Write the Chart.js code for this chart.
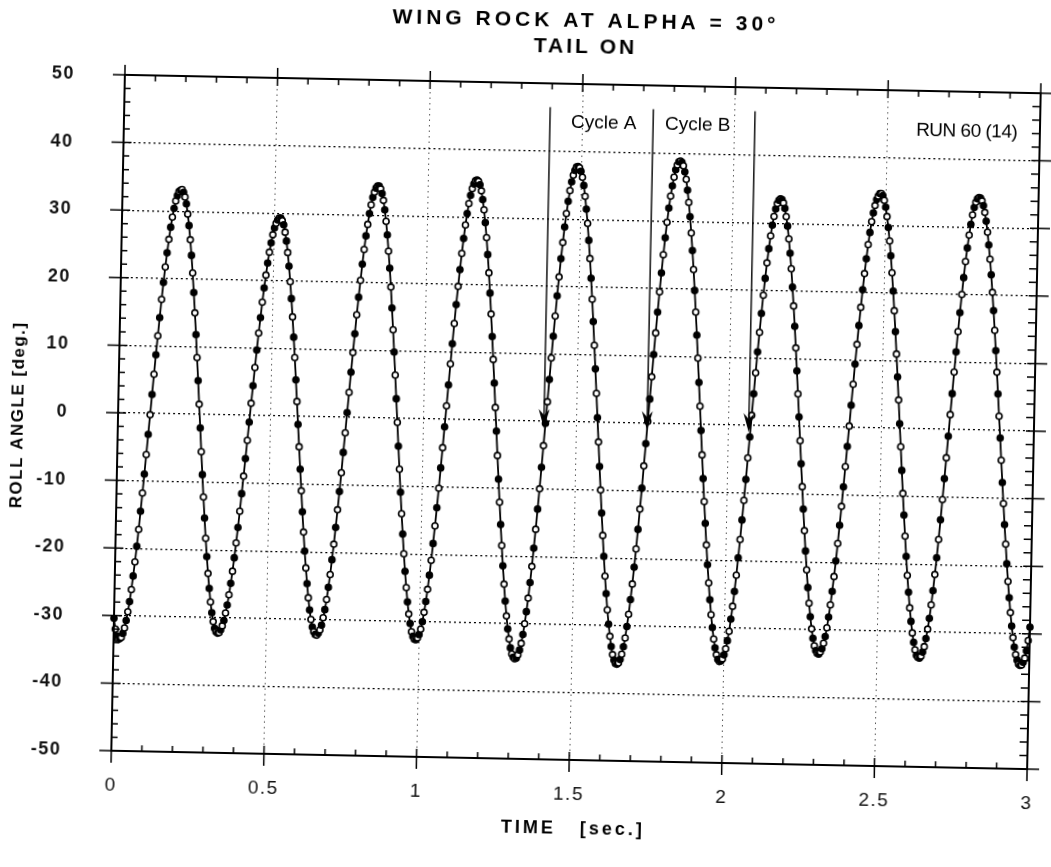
<!DOCTYPE html>
<html>
<head>
<meta charset="utf-8">
<title>Wing rock at alpha = 30 deg, tail on</title>
<script src="https://cdn.jsdelivr.net/npm/chart.js@4/dist/chart.umd.min.js"></script>
<style>
  html, body { margin: 0; padding: 0; background: #fff; overflow: hidden; }
  /* the plotted sheet sits slightly turned on the page */
  #wingRock { display: block; transform-origin: 577px 422px; transform: rotate(1.15deg); }
</style>
</head>
<body>
<canvas id="wingRock" width="1051" height="867"></canvas>
<script>
/** Roll angle time history for wing rock, run 60 (14). */

// roll angle [deg], one sample every 5 ms from 0 to 3 s
const sampleStep = 0.005;
const rollAngle = [
    // 0.000 - 0.015
    -30.4, -32.0, -33.0, -33.5,
    // 0.020 - 0.190
    -33.4, -33.2, -32.6, -31.8, -30.7, -29.4, -27.9, -26.1, -24.1, -22.0, -19.7, -17.2, -14.5, -11.8, -9.0, -6.1, -3.1, -0.2,
    2.8, 5.8, 8.7, 11.5, 14.2, 16.9, 19.4, 21.7, 23.8, 25.8, 27.6, 29.1, 30.4, 31.5, 32.3, 32.9, 33.1,
    // 0.195 - 0.340
    33.2, 32.8, 32.1, 31.1, 29.6, 27.9, 25.8, 23.5, 20.9, 18.0, 15.0, 11.8, 8.4, 5.0, 1.5,
    -2.0, -5.5, -8.9, -12.2, -15.3, -18.3, -21.0, -23.5, -25.7, -27.7, -29.3, -30.6, -31.6, -32.1, -32.3,
    // 0.345 - 0.515
    -32.2, -31.8, -31.2, -30.4, -29.3, -28.1, -26.6, -24.9, -23.1, -21.1, -18.9, -16.6, -14.2, -11.6, -9.0, -6.4, -3.7, -1.0,
    1.8, 4.4, 7.1, 9.7, 12.2, 14.5, 16.8, 18.9, 20.8, 22.6, 24.2, 25.6, 26.8, 27.8, 28.5, 29.0, 29.3,
    // 0.520 - 0.660
    29.3, 28.9, 28.3, 27.2, 25.9, 24.2, 22.2, 19.9, 17.4, 14.7, 11.7, 8.7, 5.4, 2.2,
    -1.2, -4.5, -7.8, -11.0, -14.1, -17.1, -19.9, -22.4, -24.7, -26.8, -28.6, -30.0, -31.1, -31.8, -32.2,
    // 0.665 - 0.835
    -32.3, -32.0, -31.5, -30.8, -29.7, -28.5, -27.0, -25.2, -23.3, -21.1, -18.8, -16.3, -13.7, -11.0, -8.2, -5.2, -2.3,
    0.7, 3.7, 6.7, 9.6, 12.4, 15.2, 17.8, 20.3, 22.7, 24.9, 26.9, 28.6, 30.2, 31.5, 32.6, 33.4, 34.0, 34.3,
    // 0.840 - 0.985
    34.3, 33.9, 33.2, 32.2, 30.8, 29.1, 27.1, 24.7, 22.2, 19.4, 16.3, 13.1, 9.8, 6.4, 2.9,
    -0.6, -4.1, -7.5, -10.9, -14.1, -17.1, -20.0, -22.6, -25.0, -27.1, -28.9, -30.3, -31.5, -32.2, -32.6,
    // 0.990 - 1.160
    -32.7, -32.4, -31.9, -31.1, -30.0, -28.6, -27.0, -25.2, -23.1, -20.9, -18.4, -15.8, -13.1, -10.2, -7.2, -4.2, -1.1,
    2.0, 5.1, 8.2, 11.2, 14.2, 17.0, 19.7, 22.2, 24.6, 26.8, 28.8, 30.5, 32.0, 33.2, 34.2, 34.9, 35.4, 35.5,
    // 1.165 - 1.315
    35.3, 34.8, 33.9, 32.6, 31.1, 29.2, 27.0, 24.5, 21.8, 18.8, 15.7, 12.4, 9.0, 5.5, 1.9,
    -1.6, -5.2, -8.7, -12.1, -15.4, -18.5, -21.5, -24.2, -26.7, -28.9, -30.8, -32.3, -33.6, -34.5, -35.0, -35.2,
    // 1.320 - 1.490
    -35.1, -34.6, -33.9, -32.9, -31.6, -30.0, -28.2, -26.2, -23.9, -21.5, -18.8, -16.0, -13.0, -10.0, -6.8, -3.6, -0.3,
    2.9, 6.2, 9.4, 12.6, 15.6, 18.6, 21.4, 24.1, 26.5, 28.8, 30.8, 32.6, 34.2, 35.5, 36.5, 37.2, 37.7, 37.8,
    // 1.495 - 1.645
    37.6, 37.1, 36.2, 35.0, 33.4, 31.5, 29.4, 26.9, 24.2, 21.3, 18.2, 14.9, 11.4, 7.9, 4.3, 0.7,
    -2.9, -6.5, -10.0, -13.4, -16.7, -19.8, -22.7, -25.3, -27.7, -29.8, -31.6, -33.1, -34.3, -35.1, -35.6,
    // 1.650 - 1.825
    -35.7, -35.5, -35.0, -34.2, -33.1, -31.8, -30.1, -28.3, -26.1, -23.8, -21.3, -18.6, -15.7, -12.7, -9.6, -6.3, -3.0,
    0.3, 3.6, 6.9, 10.2, 13.4, 16.5, 19.5, 22.3, 25.0, 27.5, 29.8, 31.9, 33.7, 35.2, 36.5, 37.6, 38.3, 38.8, 38.9,
    // 1.830 - 1.985
    38.7, 38.2, 37.3, 36.2, 34.6, 32.8, 30.7, 28.3, 25.7, 22.9, 19.8, 16.6, 13.2, 9.8, 6.2, 2.7,
    -0.9, -4.5, -8.0, -11.4, -14.6, -17.8, -20.7, -23.4, -25.9, -28.1, -30.0, -31.7, -33.0, -34.0, -34.7, -35.0,
    // 1.990 - 2.155
    -34.9, -34.6, -34.0, -33.1, -31.9, -30.5, -28.7, -26.8, -24.6, -22.2, -19.6, -16.9, -14.0, -11.1, -8.0, -4.8, -1.7,
    1.5, 4.7, 7.8, 10.9, 13.8, 16.6, 19.3, 21.8, 24.1, 26.2, 28.1, 29.7, 31.0, 32.1, 32.9, 33.4, 33.6,
    // 2.160 - 2.305
    33.5, 33.0, 32.2, 31.0, 29.6, 27.7, 25.6, 23.3, 20.6, 17.8, 14.8, 11.6, 8.2, 4.8, 1.4,
    -2.1, -5.5, -8.9, -12.2, -15.4, -18.4, -21.2, -23.8, -26.1, -28.1, -29.9, -31.3, -32.4, -33.1, -33.5,
    // 2.310 - 2.480
    -33.6, -33.3, -32.8, -32.0, -31.0, -29.7, -28.1, -26.3, -24.3, -22.1, -19.8, -17.2, -14.5, -11.7, -8.8, -5.8, -2.8,
    0.2, 3.3, 6.4, 9.4, 12.3, 15.1, 17.8, 20.4, 22.8, 25.0, 27.1, 28.9, 30.5, 31.8, 32.9, 33.8, 34.3, 34.7,
    // 2.485 - 2.635
    34.7, 34.4, 33.7, 32.7, 31.3, 29.7, 27.7, 25.5, 23.0, 20.3, 17.4, 14.3, 11.0, 7.6, 4.2, 0.7,
    -2.7, -6.2, -9.6, -12.8, -15.9, -18.9, -21.7, -24.2, -26.5, -28.5, -30.2, -31.6, -32.7, -33.5, -33.8,
    // 2.640 - 2.805
    -33.9, -33.6, -33.0, -32.2, -31.0, -29.6, -28.0, -26.0, -23.9, -21.5, -19.0, -16.3, -13.4, -10.4, -7.3, -4.2, -1.0,
    2.2, 5.3, 8.5, 11.5, 14.5, 17.3, 20.0, 22.5, 24.9, 26.9, 28.8, 30.4, 31.8, 32.9, 33.7, 34.2, 34.4,
    // 2.810 - 2.970
    34.3, 33.9, 33.2, 32.2, 30.9, 29.3, 27.4, 25.3, 23.0, 20.4, 17.7, 14.8, 11.8, 8.6, 5.4, 2.1,
    -1.1, -4.4, -7.7, -10.8, -13.9, -16.8, -19.7, -22.3, -24.7, -26.9, -28.9, -30.6, -32.0, -33.1, -33.9, -34.5, -34.7,
    // 2.975 - 3.000
    -34.6, -34.2, -33.6, -32.5, -31.0, -29.0
];

const timeTicks = [0, 0.5, 1, 1.5, 2, 2.5, 3];
const angleTicks = [-50, -40, -30, -20, -10, 0, 10, 20, 30, 40, 50];

// annotation marks: arrow times [sec] and the cycle names between them
const cycleArrowTimes = [1.395, 1.733, 2.066];
const cycleArrowTop = 46.5;
const cycleArrowTip = -1.0;
const cycleNames = ['Cycle A', 'Cycle B'];
const cycleNameTimes = [1.571, 1.879];
const cycleNameAngle = 44.2;
const runLabel = 'RUN 60 (14)';
const runLabelAt = [2.760, 44.1];

const titleLines = ['WING ROCK AT ALPHA = 30\u00b0', 'TAIL ON'];
const xTitle = 'TIME   [sec.]';
const yTitle = 'ROLL ANGLE [deg.]';

const FONT = "'Liberation Sans', Arial, Helvetica, sans-serif";

/**
 * Draws the frame with its minor ticks, the cycle arrows, the run label and the titles.
 */
const sheetDecor = {
    id: 'sheetDecor',
    beforeDraw(chart) {
        chart.ctx.letterSpacing = '1.5px';
    },
    afterDraw(chart) {
        const {ctx, chartArea: a, scales: {x, y}} = chart;
        ctx.save();
        ctx.letterSpacing = '0px';
        ctx.strokeStyle = '#000';
        ctx.lineWidth = 2;
        ctx.strokeRect(a.left, a.top, a.right - a.left, a.bottom - a.top);

        // 0.1 s ticks on top and bottom, 2 deg ticks on both sides
        ctx.lineWidth = 1.5;
        ctx.beginPath();
        for (let i = 0; i <= 30; i++) {
            const px = x.getPixelForValue(i * 0.1);
            const major = i % 5 === 0;
            ctx.moveTo(px, a.top - (major ? 10 : 0));
            ctx.lineTo(px, a.top + (major ? 8 : 6));
            ctx.moveTo(px, a.bottom + (major ? 12 : 0));
            ctx.lineTo(px, a.bottom - (major ? 8 : 6));
        }
        for (let d = -50; d <= 50; d += 2) {
            const py = y.getPixelForValue(d);
            const major = d % 10 === 0;
            ctx.moveTo(a.left - (major ? 12 : 0), py);
            ctx.lineTo(a.left + (major ? 8 : 6), py);
            ctx.moveTo(a.right + (major ? 12 : 0), py);
            ctx.lineTo(a.right - 8, py);
        }
        ctx.stroke();

        // arrows pointing at the start of each cycle
        const topPx = y.getPixelForValue(cycleArrowTop);
        const tipPx = y.getPixelForValue(cycleArrowTip);
        ctx.lineWidth = 1.4;
        ctx.fillStyle = '#000';
        cycleArrowTimes.forEach(t => {
            const px = x.getPixelForValue(t);
            ctx.beginPath();
            ctx.moveTo(px, topPx);
            ctx.lineTo(px, tipPx - 10);
            ctx.stroke();
            ctx.beginPath();
            ctx.moveTo(px, tipPx);
            ctx.lineTo(px - 5.5, tipPx - 19);
            ctx.lineTo(px, tipPx - 13);
            ctx.lineTo(px + 5.5, tipPx - 19);
            ctx.closePath();
            ctx.fill();
        });

        ctx.textAlign = 'center';
        ctx.textBaseline = 'middle';
        ctx.font = `19px ${FONT}`;
        cycleNames.forEach((name, i) => {
            ctx.fillText(name, x.getPixelForValue(cycleNameTimes[i]), y.getPixelForValue(cycleNameAngle));
        });
        ctx.letterSpacing = '-0.5px';
        ctx.fillText(runLabel, x.getPixelForValue(runLabelAt[0]), y.getPixelForValue(runLabelAt[1]));

        // titles
        const midX = (a.left + a.right) / 2;
        ctx.font = `bold 21px ${FONT}`;
        ctx.letterSpacing = '4px';
        ctx.fillText(titleLines[0], midX + 2, 21.5);
        ctx.letterSpacing = '3px';
        ctx.fillText(titleLines[1], midX + 2, 47.5);

        ctx.font = `bold 18px ${FONT}`;
        ctx.letterSpacing = '3px';
        ctx.fillText(xTitle, midX + 5, 829);

        ctx.font = `bold 17px ${FONT}`;
        ctx.letterSpacing = '1.5px';
        ctx.translate(18, (a.top + a.bottom) / 2 + 4);
        ctx.rotate(-Math.PI / 2);
        ctx.fillText(yTitle, 0, 0);
        ctx.restore();
    }
};

/**
 * Creates the roll angle chart.
 * @param {string} elementId - Id of the canvas to draw in.
 * @returns reference to the chart.
 */
function createChart(elementId) {
    const context = document.getElementById(elementId);
    const points = rollAngle.map((v, i) => ({x: i * sampleStep, y: v}));
    const chartConfig = {
        type: 'line',
        data: {
            datasets: [{
                label: 'Roll angle',
                data: points,
                borderColor: '#000',
                borderWidth: 1.8,
                pointRadius: 3,
                pointBorderWidth: 1.6,
                pointBorderColor: '#000',
                pointBackgroundColor: c => (c.dataIndex % 2 ? '#fff' : '#000'),
                tension: 0,
                clip: 6
            }]
        },
        options: {
            responsive: false,
            devicePixelRatio: 1,
            animation: false,
            events: [],
            layout: {
                padding: {left: 0, right: 17, top: 84, bottom: 0}
            },
            plugins: {
                legend: {display: false},
                tooltip: {enabled: false}
            },
            scales: {
                x: {
                    type: 'linear',
                    min: 0,
                    max: 3,
                    afterBuildTicks: s => { s.ticks = timeTicks.map(v => ({value: v})); },
                    afterFit: s => {
                        s.height = 107;
                        s.paddingLeft = 0;
                        s.paddingRight = 0;
                    },
                    border: {display: false, dash: [1.5, 4]},
                    grid: {
                        drawTicks: false,
                        lineWidth: 1,
                        color: c => (c.tick && (c.tick.value === 0 || c.tick.value === 3) ? 'rgba(0,0,0,0)' : '#555')
                    },
                    ticks: {
                        padding: 23,
                        autoSkip: false,
                        maxRotation: 0,
                        color: '#111',
                        font: {family: FONT, size: 19},
                        callback: v => String(v)
                    }
                },
                y: {
                    type: 'linear',
                    min: -50,
                    max: 50,
                    afterBuildTicks: s => { s.ticks = angleTicks.map(v => ({value: v})); },
                    afterFit: s => {
                        s.width = 118;
                        s.paddingTop = 0;
                        s.paddingBottom = 0;
                    },
                    border: {display: false, dash: [2, 3]},
                    grid: {
                        drawTicks: false,
                        lineWidth: 1.2,
                        color: c => (c.tick && Math.abs(c.tick.value) === 50 ? 'rgba(0,0,0,0)' : '#000')
                    },
                    ticks: {
                        padding: 50,
                        color: '#111',
                        font: {family: FONT, size: 18, weight: 'bold'},
                        callback: v => String(v)
                    }
                }
            }
        },
        plugins: [sheetDecor]
    };
    return new Chart(context, chartConfig);
}

window.onload = () => createChart('wingRock');
</script>
</body>
</html>
